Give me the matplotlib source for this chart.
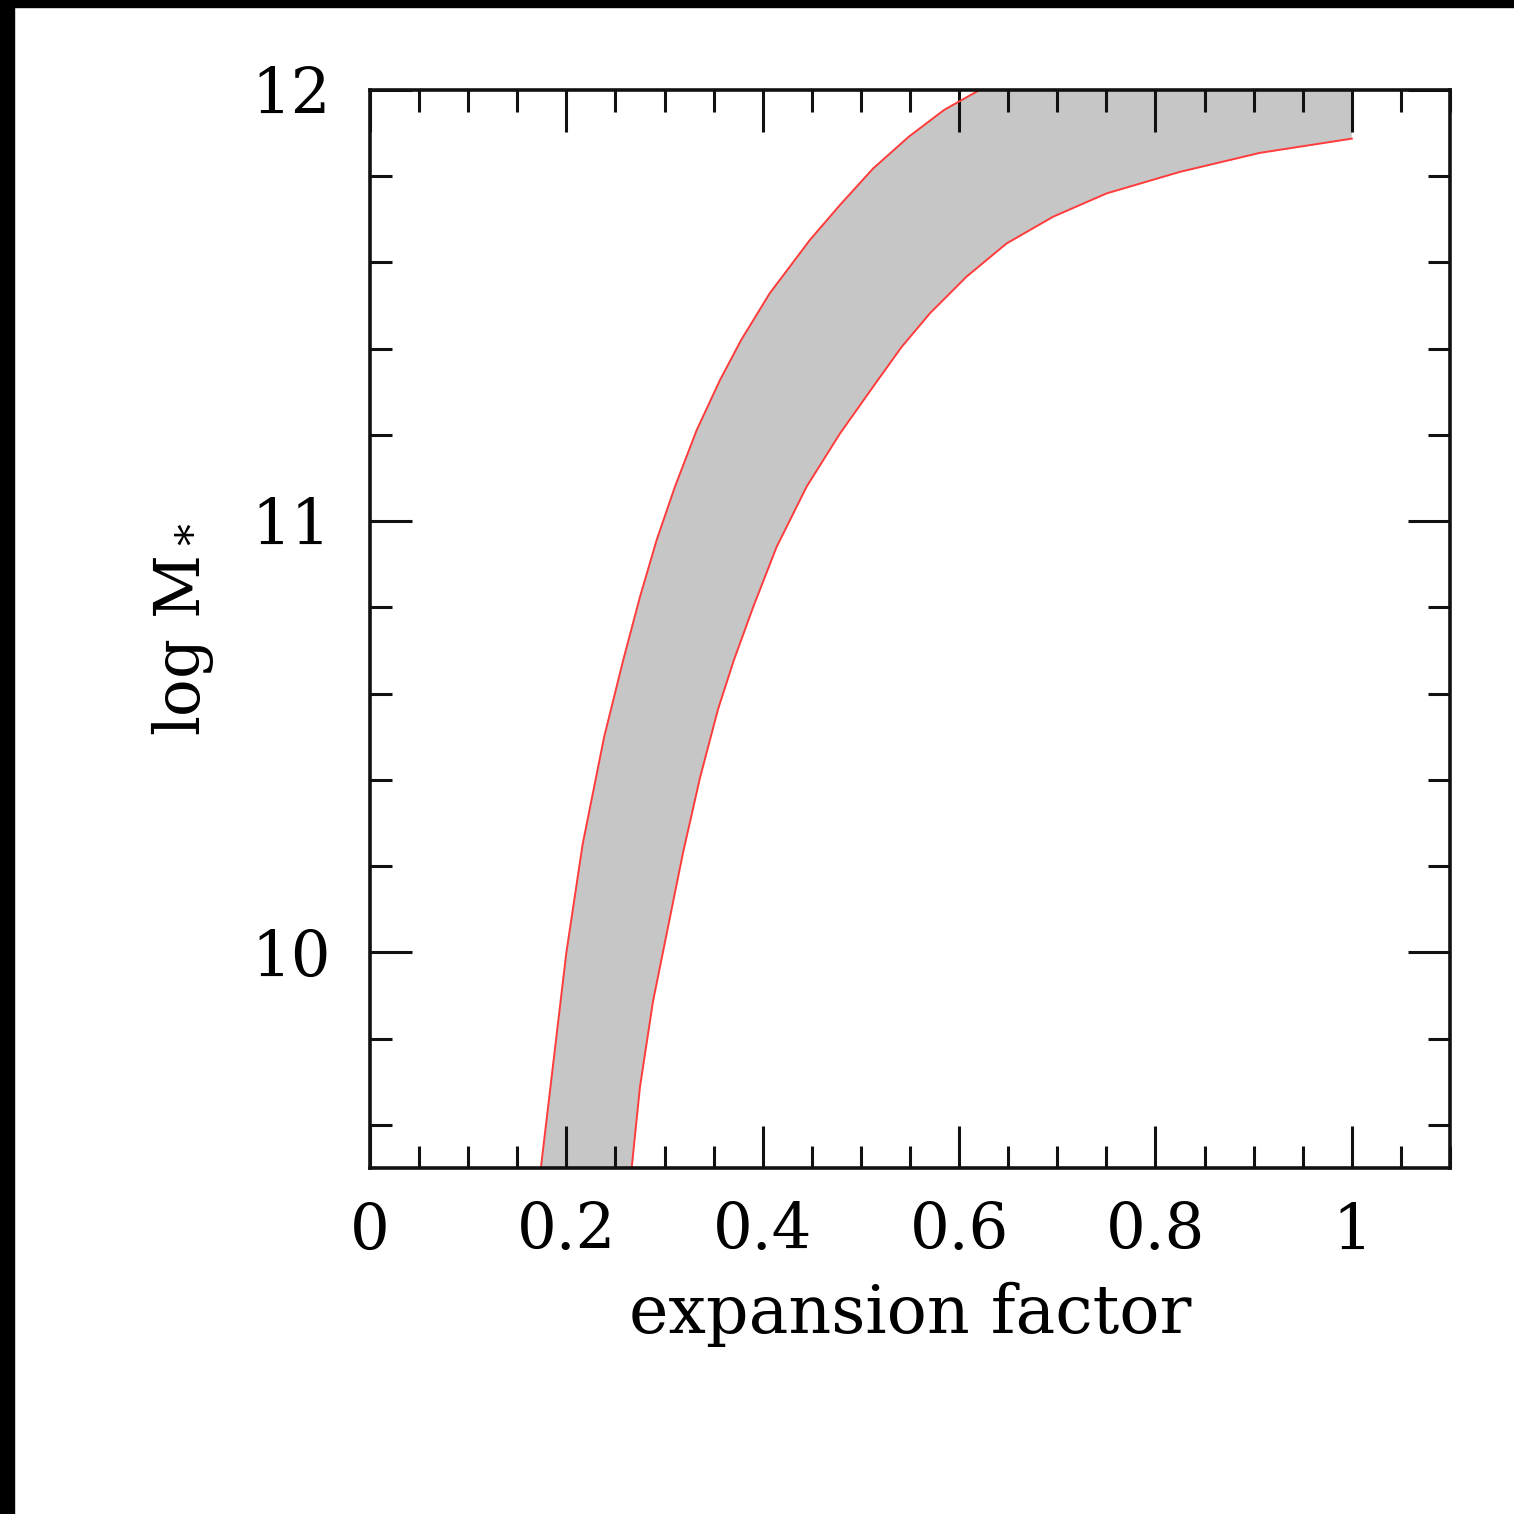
import numpy as np
import matplotlib
matplotlib.use("Agg")
import matplotlib.pyplot as plt
from matplotlib.ticker import MultipleLocator
from matplotlib.patches import Rectangle

# Upper (early-forming) boundary of the stellar-mass band: expansion factor vs log M*
upper_a = [0.174, 0.187, 0.200, 0.2165, 0.2385, 0.2578, 0.2749, 0.2919, 0.3106,
           0.3327, 0.3564, 0.378, 0.407, 0.448, 0.4786, 0.5125, 0.549, 0.585,
           0.621, 0.710, 0.830, 1.000]
upper_logm = [9.50, 9.75, 10.00, 10.25, 10.50, 10.677, 10.824, 10.956, 11.080,
              11.211, 11.327, 11.42, 11.528, 11.652, 11.733, 11.818, 11.892, 11.954,
              12.00, 12.10, 12.20, 12.33]

# Lower (late-forming) boundary of the band
lower_a = [0.2665, 0.2749, 0.2882, 0.3024, 0.3187, 0.3360, 0.3545, 0.3705, 0.3903,
           0.4141, 0.4447, 0.4786, 0.5150, 0.5415, 0.5703, 0.6076, 0.6484, 0.6958,
           0.7502, 0.825, 0.9063, 1.000]
lower_logm = [9.50, 9.687, 9.886, 10.046, 10.230, 10.404, 10.564, 10.677, 10.801,
              10.940, 11.080, 11.203, 11.320, 11.404, 11.482, 11.567, 11.644, 11.706,
              11.760, 11.810, 11.854, 11.887]

xtick_values = [0, 0.2, 0.4, 0.6, 0.8, 1.0]
xtick_labels = ["0", "0.2", "0.4", "0.6", "0.8", "1"]
ytick_values = [10, 11, 12]
ytick_labels = ["10", "11", "12"]

plt.rcParams["font.family"] = ["DejaVu Serif"]
plt.rcParams["mathtext.fontset"] = "dejavuserif"

fig = plt.figure(figsize=(15.14, 15.14), dpi=100)
ax = fig.add_axes([0.2444, 0.2285, 0.9577 - 0.2444, 0.9406 - 0.2285])

# shaded band between the two boundaries
band_x = np.concatenate([upper_a, lower_a[::-1]])
band_y = np.concatenate([upper_logm, lower_logm[::-1]])
ax.fill(band_x, band_y, color="#c6c6c6", lw=0, zorder=1)
ax.plot(upper_a, upper_logm, color="#ff3b3b", lw=1.4, zorder=2,
        solid_joinstyle="round")
ax.plot(lower_a, lower_logm, color="#ff3b3b", lw=1.4, zorder=2,
        solid_joinstyle="round")

ax.set_xlim(0, 1.1)
ax.set_ylim(9.5, 12)

ax.set_xticks(xtick_values)
ax.set_xticklabels(xtick_labels)
ax.set_yticks(ytick_values)
ax.set_yticklabels(ytick_labels)
ax.xaxis.set_minor_locator(MultipleLocator(0.05))
ax.yaxis.set_minor_locator(MultipleLocator(0.2))

ax.tick_params(which="both", direction="in", top=True, right=True,
               width=2.2, color="#111111")
ax.tick_params(which="major", length=30, labelsize=45)
ax.tick_params(axis="x", which="major", pad=24)
ax.tick_params(axis="y", which="major", pad=28)
ax.tick_params(which="minor", length=16)
for s in ax.spines.values():
    s.set_linewidth(2.6)
    s.set_color("#111111")

ax.set_xlabel("expansion factor", fontsize=48, labelpad=14)
ax.set_ylabel(r"log M$_*$", fontsize=45, labelpad=26)

# dark strips along the top and left edges of the canvas
fig.patches.append(Rectangle((0, 1 - 7 / 1514), 1, 7 / 1514,
                             transform=fig.transFigure, color="black", zorder=10))
fig.patches.append(Rectangle((0, 0), 14 / 1514, 1,
                             transform=fig.transFigure, color="black", zorder=10))

fig.savefig("out.png", dpi=100)
